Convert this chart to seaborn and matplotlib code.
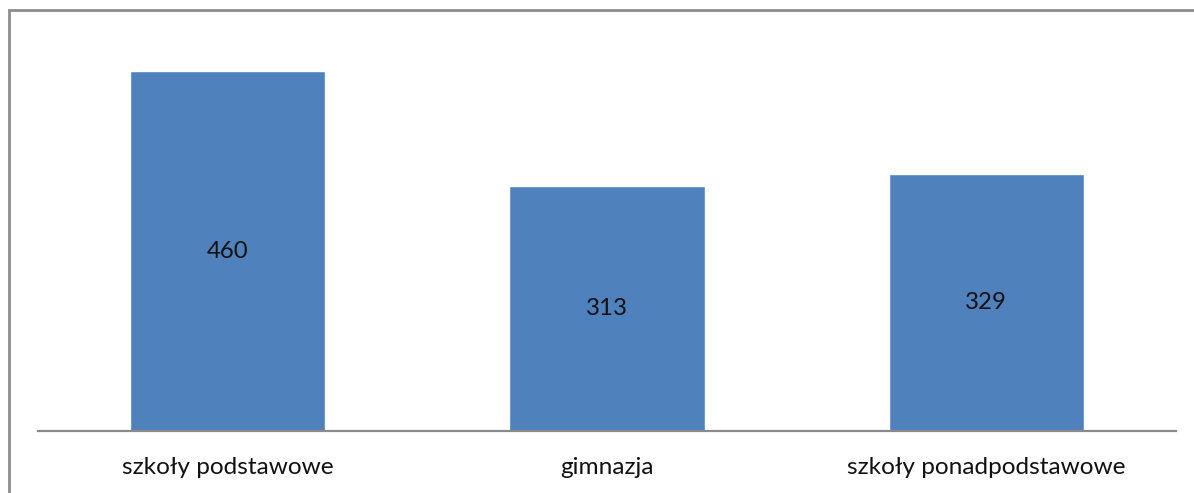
import matplotlib
matplotlib.use("Agg")
import matplotlib.pyplot as plt
import seaborn as sns
import pandas as pd
from matplotlib.patches import Rectangle

# dane
kategorie = ["szkoły podstawowe", "gimnazja", "szkoły ponadpodstawowe"]
wartosci = [460, 313, 329]

df = pd.DataFrame({"kategoria": kategorie, "liczba": wartosci})

sns.set_theme(style="white")
plt.rcParams["font.family"] = ["Lato", "DejaVu Sans"]

fig = plt.figure(figsize=(11.94, 4.93), dpi=100)
W, H = 1194, 493
ax = fig.add_axes([38 / W, (H - 431) / H, (1176 - 38) / W, (431 - 40) / H])

sns.barplot(data=df, x="kategoria", y="liczba", color="#4F81BD",
            saturation=1, width=0.515, ax=ax)

ax.set_ylim(0, 500)
ax.set_xlim(-0.5, len(kategorie) - 0.5)

# etykiety wartosci w srodku slupkow
for i, v in enumerate(wartosci):
    ax.text(i, v / 2, str(v), ha="center", va="center", fontsize=17.3, color="#111111")

for s in ["top", "right", "left"]:
    ax.spines[s].set_visible(False)
ax.spines["bottom"].set_color("#8a8a8a")
ax.spines["bottom"].set_linewidth(1.6)
ax.set_yticks([])
ax.set_xlabel("")
ax.set_ylabel("")
ax.tick_params(axis="x", length=0, pad=19, labelsize=17.6, labelcolor="#111111")

# ramka wykresu (przycieta z prawej i od dolu)
fig.patches.append(Rectangle((8.5 / W, -0.1), 1.2, (H - 10) / H + 0.1,
                             transform=fig.transFigure, fill=False,
                             edgecolor="#8c8c8c", linewidth=2))

fig.savefig("out.png", dpi=100)
